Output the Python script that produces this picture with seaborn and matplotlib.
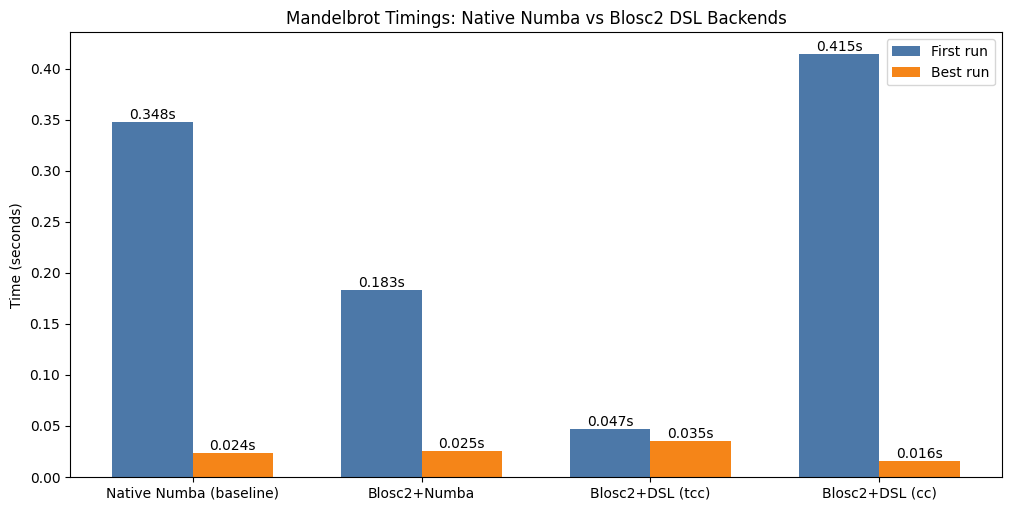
import matplotlib
matplotlib.use("Agg")
import matplotlib.pyplot as plt
import seaborn as sns
import pandas as pd

categories = ["Native Numba (baseline)", "Blosc2+Numba", "Blosc2+DSL (tcc)", "Blosc2+DSL (cc)"]
first_run = [0.348, 0.183, 0.047, 0.415]
best_run = [0.024, 0.025, 0.035, 0.016]
series = ["First run", "Best run"]
colors = ["#4c78a8", "#f58518"]

df = pd.DataFrame({
    "Backend": categories * 2,
    "Time": first_run + best_run,
    "Run": [series[0]] * 4 + [series[1]] * 4,
})

fig, ax = plt.subplots(figsize=(10.11, 5.11), dpi=100)
fig.subplots_adjust(left=70/1011, right=1002/1011, top=1-32.5/511, bottom=1-477/511)
sns.barplot(data=df, x="Backend", y="Time", hue="Run", hue_order=series,
            palette=colors, saturation=1, width=0.7, ax=ax, errorbar=None,
            linewidth=0)
for cont in ax.containers:
    ax.bar_label(cont, fmt="{:.3f}s", fontsize=10, padding=0)
ax.set_xlim(-0.535, 3.535)
ax.set_ylim(0, 0.415 * 1.05)
ax.set_xlabel("")
ax.set_ylabel("Time (seconds)")
ax.set_title("Mandelbrot Timings: Native Numba vs Blosc2 DSL Backends")
ax.legend(loc="upper right", title=None)
fig.savefig("out.png", dpi=100)
